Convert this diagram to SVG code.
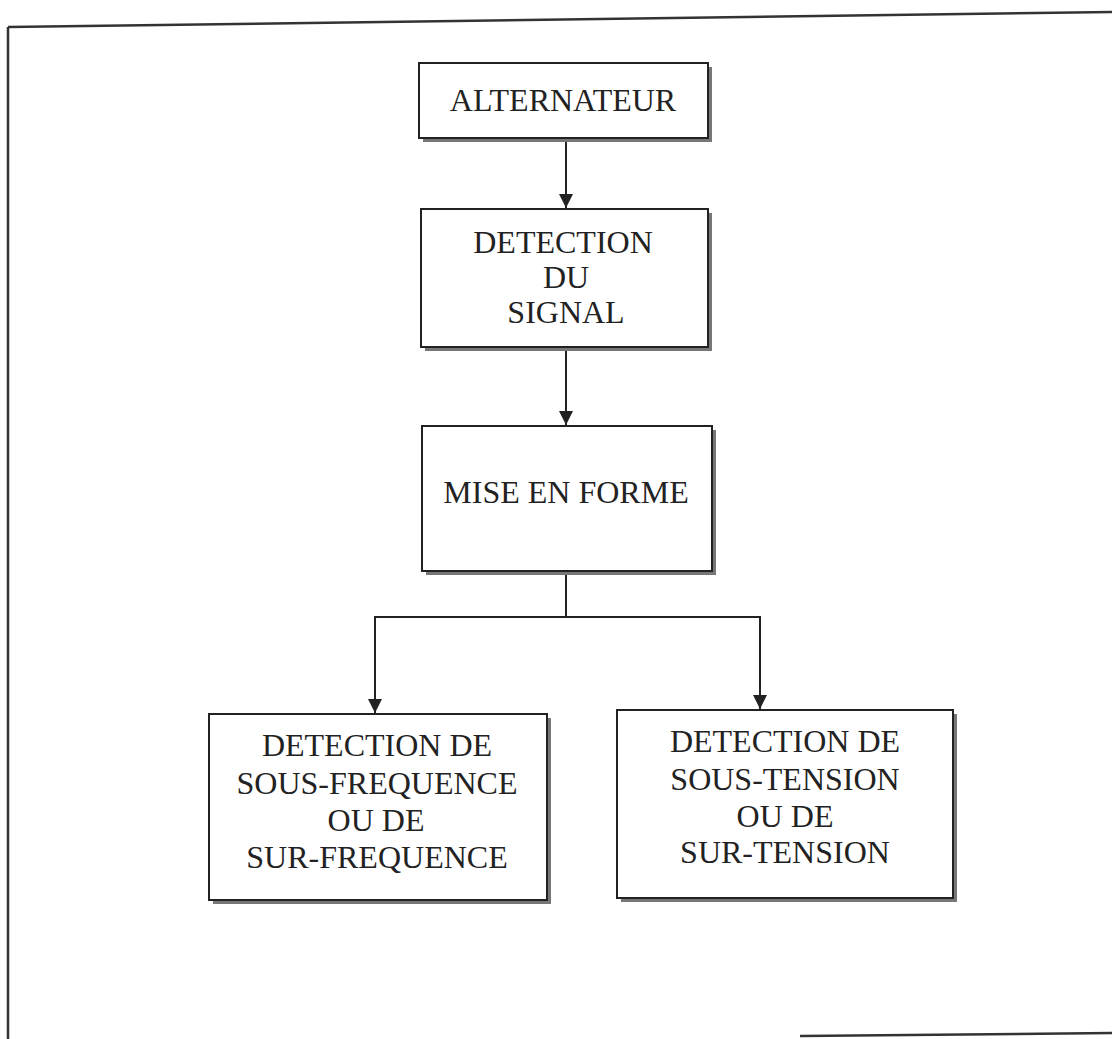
<svg xmlns="http://www.w3.org/2000/svg" width="1112" height="1039" viewBox="0 0 1112 1039">
<defs>
<style>
.box{fill:#fff;stroke:#222;stroke-width:2}
.sh{fill:#777}
.t{font-family:"Liberation Serif","Times New Roman",serif;font-size:32px;fill:#222;text-anchor:middle}
.c{fill:none;stroke:#222;stroke-width:2}
.frame{fill:none;stroke:#333;stroke-width:2.5}
</style>
<marker id="ah" markerWidth="16" markerHeight="16" refX="14" refY="7" orient="auto" markerUnits="userSpaceOnUse">
<path d="M0,0 L14,7 L0,14 Z" fill="#222"/>
</marker>
</defs>
<rect width="1112" height="1039" fill="#fff"/>
<g id="frame">
<path class="frame" d="M8,27 L1112,12"/>
<path class="frame" d="M8,27 L8,1039"/>
<path class="frame" d="M800,1036 L1112,1033"/>
</g>
<g id="connectors">
<path class="c" d="M566,139 L566,208" marker-end="url(#ah)"/>
<path class="c" d="M566,348 L566,425" marker-end="url(#ah)"/>
<path class="c" d="M566,572 L566,617 M375,617 L760,617"/>
<path class="c" d="M375,616 L375,713" marker-end="url(#ah)"/>
<path class="c" d="M760,616 L760,709" marker-end="url(#ah)"/>
</g>
<g id="alternateur">
<rect class="sh" x="423" y="67" width="289" height="75"/>
<rect class="box" x="419" y="63" width="289" height="75"/>
<text class="t" x="563" y="111">ALTERNATEUR</text>
</g>
<g id="detection-signal">
<rect class="sh" x="425" y="213" width="287" height="138"/>
<rect class="box" x="421" y="209" width="287" height="138"/>
<text class="t" x="563" y="253">DETECTION</text>
<text class="t" x="566" y="288">DU</text>
<text class="t" x="566" y="323">SIGNAL</text>
</g>
<g id="mise-en-forme">
<rect class="sh" x="426" y="430" width="290" height="145"/>
<rect class="box" x="422" y="426" width="290" height="145"/>
<text class="t" x="566" y="503">MISE EN FORME</text>
</g>
<g id="detection-frequence">
<rect class="sh" x="213" y="718" width="338" height="186"/>
<rect class="box" x="209" y="714" width="338" height="186"/>
<text class="t" x="377" y="756">DETECTION DE</text>
<text class="t" x="377" y="794">SOUS-FREQUENCE</text>
<text class="t" x="376" y="831">OU DE</text>
<text class="t" x="377" y="868">SUR-FREQUENCE</text>
</g>
<g id="detection-tension">
<rect class="sh" x="621" y="714" width="336" height="188"/>
<rect class="box" x="617" y="710" width="336" height="188"/>
<text class="t" x="785" y="752">DETECTION DE</text>
<text class="t" x="785" y="790">SOUS-TENSION</text>
<text class="t" x="785" y="827">OU DE</text>
<text class="t" x="785" y="863">SUR-TENSION</text>
</g>
</svg>
